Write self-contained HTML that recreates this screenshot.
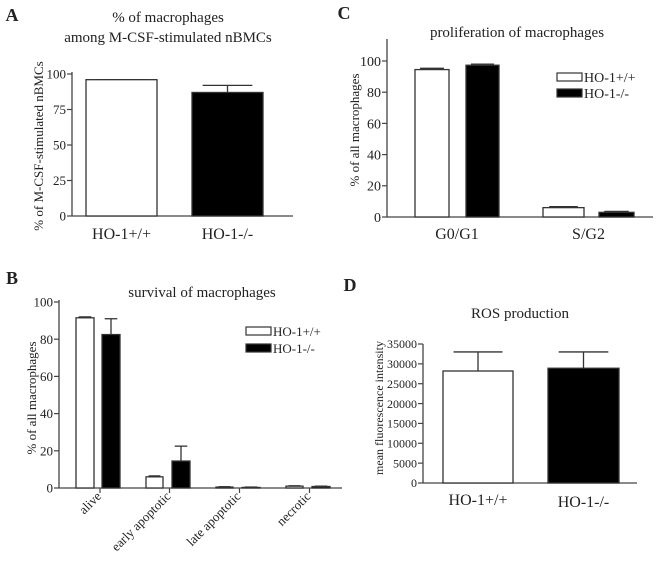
<!DOCTYPE html>
<html><head><meta charset="utf-8"><style>
html,body{margin:0;padding:0;background:#fff;}
svg{display:block;font-family:"Liberation Serif",serif;}
text{fill:#222;}
</style></head><body>
<svg id="fig" width="660" height="564" viewBox="0 0 660 564"></svg>
<script>
// Panel A data
const aCats = ["HO-1+/+","HO-1-/-"];
const aVals = [96, 87];
const aErr = [96, 92];
const aTicks = [0,25,50,75,100];
// Panel B data
const bCats = ["alive","early apoptotic","late apoptotic","necrotic"];
const bWT = [91.5, 6, 0.5, 1];
const bWTErr = [92, 6.5, 0.7, 1.2];
const bKO = [82.5, 14.5, 0.3, 0.8];
const bKOErr = [91, 22.5, 0.5, 1.0];
const bTicks = [0,20,40,60,80,100];
// Panel C data
const cCats = ["G0/G1","S/G2"];
const cWT = [94.5, 6];
const cWTErr = [95.3, 6.6];
const cKO = [97.3, 3];
const cKOErr = [98, 3.6];
const cTicks = [0,20,40,60,80,100];
// Panel D data
const dCats = ["HO-1+/+","HO-1-/-"];
const dVals = [28200, 28900];
const dErr = [33000, 33000];
const dTicks = [0,5000,10000,15000,20000,25000,30000,35000];

const NS="http://www.w3.org/2000/svg";
const svg=document.getElementById('fig');
function el(tag,attrs,parent,txt){const e=document.createElementNS(NS,tag);for(const k in attrs)e.setAttribute(k,attrs[k]);if(txt!==undefined)e.textContent=txt;(parent||svg).appendChild(e);return e;}
function lin(d0,d1,r0,r1){return v=>r0+(v-d0)/(d1-d0)*(r1-r0);}

function yAxis(g,x,y,ticks,top,fs,name){
  const ax=el('line',{x1:x,x2:x,y1:top,y2:y(ticks[0]),stroke:'#444','stroke-width':1.3},g);
  
  ticks.forEach(t=>{
    const tl=el('line',{x1:x-5,x2:x,y1:y(t),y2:y(t),stroke:'#444','stroke-width':1.2},g);
    
    const tx=el('text',{x:x-6,y:y(t)+fs*0.35,'font-size':fs,'text-anchor':'end'},g,t);
    
  });
}
function bar(g,x0,x1,y,v,e,black,name){
  if(e!==null){
    const cx=(x0+x1)/2,w=(x1-x0)*0.35;
    const el1=el('line',{x1:cx,x2:cx,y1:y(v),y2:y(e),stroke:'#333','stroke-width':1.3},g);
    
    const el2=el('line',{x1:cx-w,x2:cx+w,y1:y(e),y2:y(e),stroke:'#333','stroke-width':1.3},g);
    
  }
  const r=el('rect',{x:x0,y:y(v),width:x1-x0,height:y(0)-y(v),fill:black?'#000':'#fff',stroke:'#333','stroke-width':1.3},g);
  
}
function legend(g,x,y1,y2,fs){
  [[y1,'#fff','HO-1+/+'],[y2,'#000','HO-1-/-']].forEach((l,i)=>{
    const r=el('rect',{x:x,y:l[0],width:25,height:8,fill:l[1],stroke:'#333','stroke-width':1.2},g);
    
    const t=el('text',{x:x+27,y:l[0]+9,'font-size':fs},g,l[2]);
    
  });
}
function txt(g,x,y,s,fs,name,extra){const a=Object.assign({x:x,y:y,'font-size':fs,'text-anchor':'middle'},extra||{});const t=el('text',a,g,s);return t;}

// ---- Panel A ----
{
const g=el('g',{});
const y=lin(0,100,216,74);
txt(g,12,21,'A',18,'panel-a-letter',{'font-weight':'bold'});
txt(g,168,22,'% of macrophages',15,'panel-a-title-line1');
txt(g,168,42,'among M-CSF-stimulated nBMCs',15,'panel-a-title-line2');
yAxis(g,72,y,aTicks,72,13,'panel-a');
const xa=el('line',{x1:72,x2:293,y1:216,y2:216,stroke:'#444','stroke-width':1.3},g);

const xs=[[86,157],[192,263]];
aCats.forEach((c,i)=>{
  bar(g,xs[i][0],xs[i][1],y,aVals[i],aErr[i],i===1,'panel-a-bar-'+i);
  txt(g,(xs[i][0]+xs[i][1])/2,239,c,16,'panel-a-x-label');
});
txt(g,0,0,'% of M-CSF-stimulated nBMCs',13,'panel-a-y-title',{transform:'translate(43,146) rotate(-90)'});
}
// ---- Panel C ----
{
const g=el('g',{});
const y=lin(0,100,217,61);
txt(g,344,19,'C',18,'panel-c-letter',{'font-weight':'bold'});
txt(g,517,37,'proliferation of macrophages',15,'panel-c-title');
yAxis(g,387,y,cTicks,39,14,'panel-c');
const xa=el('line',{x1:387,x2:653,y1:217,y2:217,stroke:'#444','stroke-width':1.3},g);

const wx=[[415,449],[543,584]],kx=[[466,499],[599,634]];
cCats.forEach((c,i)=>{
  bar(g,wx[i][0],wx[i][1],y,cWT[i],cWTErr[i],false,'panel-c-bar-wt-'+i);
  bar(g,kx[i][0],kx[i][1],y,cKO[i],cKOErr[i],true,'panel-c-bar-ko-'+i);
  txt(g,(wx[i][0]+kx[i][1])/2,239,c,16,'panel-c-x-label');
});
legend(g,557,73,89,14);
txt(g,0,0,'% of all macrophages',13,'panel-c-y-title',{transform:'translate(359,130) rotate(-90)'});
}
// ---- Panel B ----
{
const g=el('g',{});
const y=lin(0,100,488,302);
txt(g,12,284,'B',18,'panel-b-letter',{'font-weight':'bold'});
txt(g,202,297,'survival of macrophages',15,'panel-b-title');
yAxis(g,59,y,bTicks,300,13,'panel-b');
const xa=el('line',{x1:59,x2:342,y1:488,y2:488,stroke:'#444','stroke-width':1.3},g);

const wx=[[76,94],[146,163],[216,233],[286,303]],kx=[[102,120],[172,190],[242,260],[312,330]];
bCats.forEach((c,i)=>{
  bar(g,wx[i][0],wx[i][1],y,bWT[i],bWTErr[i],false,'panel-b-bar-wt-'+i);
  bar(g,kx[i][0],kx[i][1],y,bKO[i],bKOErr[i],true,'panel-b-bar-ko-'+i);
  const tx=(wx[i][1]+kx[i][0])/2+2;
  const tk=el('line',{x1:tx,x2:tx,y1:488,y2:493,stroke:'#444','stroke-width':1.2},g);
  
  txt(g,0,0,c,13,'panel-b-x-label',{'text-anchor':'end',transform:'translate('+(tx+2)+',497) rotate(-45)'});
});
legend(g,246,327,344,13);
txt(g,0,0,'% of all macrophages',13,'panel-b-y-title',{transform:'translate(36,398) rotate(-90)'});
}
// ---- Panel D ----
{
const g=el('g',{});
const y=lin(0,35000,483,344);
txt(g,350,291,'D',18,'panel-d-letter',{'font-weight':'bold'});
txt(g,520,318,'ROS production',15,'panel-d-title');
yAxis(g,423,y,dTicks,344,12,'panel-d');
const xa=el('line',{x1:423,x2:637,y1:483,y2:483,stroke:'#444','stroke-width':1.3},g);

const xs=[[443,513],[548,619]];
dCats.forEach((c,i)=>{
  bar(g,xs[i][0],xs[i][1],y,dVals[i],dErr[i],i===1,'panel-d-bar-'+i);
  txt(g,(xs[i][0]+xs[i][1])/2,505+i*2,c,16,'panel-d-x-label');
});
txt(g,0,0,'mean fluorescence intensity',12,'panel-d-y-title',{transform:'translate(383,408) rotate(-90)'});
}
</script>
</body></html>
